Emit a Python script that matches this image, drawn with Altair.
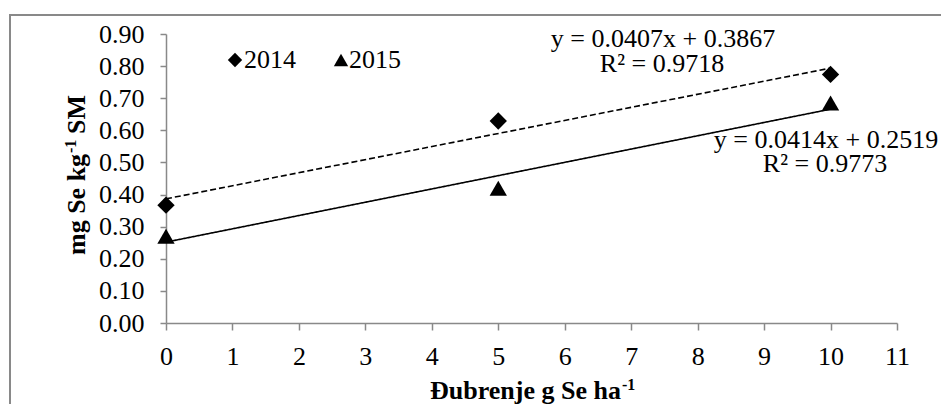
import altair as alt
import pandas as pd

# ---------------- data ----------------
years = ["2014", "2015"]
doses = [0, 5, 10]
se_2014 = [0.367, 0.629, 0.774]
se_2015 = [0.270, 0.420, 0.685]
slopes = [0.0407, 0.0414]
intercepts = [0.3867, 0.2519]
equations = ["y = 0.0407x + 0.3867", "y = 0.0414x + 0.2519"]
r_squared = ["R² = 0.9718", "R² = 0.9773"]
x_ticks = list(range(0, 12))
y_ticks = [0.0, 0.1, 0.2, 0.3, 0.4, 0.5, 0.6, 0.7, 0.8, 0.9]
x_title = ["Đubrenje g Se ha", "-1"]
y_title = ["mg Se kg", "-1", "SM"]

points = pd.DataFrame({
    "year": [years[0]] * len(doses) + [years[1]] * len(doses),
    "dose": doses * 2,
    "se": se_2014 + se_2015,
})
trend_x = [0, 10]
trend = pd.DataFrame([
    {"series": yr, "dose": x, "se": b + m * x}
    for yr, m, b in zip(years, slopes, intercepts)
    for x in trend_x
])

# ---------------- style ----------------
FONT = "Liberation Serif"
FS = 26
SUP = 16
GREY = "#898989"
W, H = 731, 289
LEGEND_SYMBOL_X = [69, 175]
LEGEND_LABEL_X = [78, 183]
LEGEND_Y = 26

xscale = alt.Scale(domain=[0, 11], nice=False, zero=False)
yscale = alt.Scale(domain=[0, 0.9], nice=False)
shape_scale = alt.Scale(domain=years, range=["diamond", "triangle-up"])

x_axis = alt.Axis(values=x_ticks, title=None, grid=False, labelFont=FONT,
                  labelFontSize=FS, labelColor="black", domainColor=GREY,
                  tickColor=GREY, domainWidth=1.5, tickWidth=1.5, tickSize=7,
                  labelPadding=13, labelFlush=False)
y_axis = alt.Axis(values=y_ticks, format=".2f", title=None, grid=False,
                  labelFont=FONT, labelFontSize=FS, labelColor="black",
                  domainColor=GREY, tickColor=GREY, domainWidth=1.5,
                  tickWidth=1.5, tickSize=6, labelPadding=16, labelFlush=False,
                  labelAlign="right")


def text_layer(text, px, py, **kw):
    df = pd.DataFrame({"t": [text], "px": [px], "py": [py]})
    return alt.Chart(df).mark_text(font=FONT, color="black", **kw).encode(
        x=alt.X("px:Q", scale=None),
        y=alt.Y("py:Q", scale=None),
        text="t:N",
    )


border = alt.Chart(pd.DataFrame({"a": [0]})).mark_rect(
    fillOpacity=0, stroke=GREY, strokeWidth=2
).encode(
    x=alt.value(-156), x2=alt.value(820), y=alt.value(-19), y2=alt.value(420)
)

lines = alt.Chart(trend).mark_line(color="black", strokeWidth=1.6).encode(
    x=alt.X("dose:Q", scale=xscale, axis=x_axis),
    y=alt.Y("se:Q", scale=yscale, axis=y_axis),
    strokeDash=alt.StrokeDash("series:N", scale=alt.Scale(domain=years, range=[[6, 3], [1, 0]]), legend=None),
)

pts = alt.Chart(points).mark_point(filled=True, size=300, color="black", opacity=1).encode(
    x=alt.X("dose:Q", scale=xscale, axis=x_axis),
    y=alt.Y("se:Q", scale=yscale, axis=y_axis),
    shape=alt.Shape("year:N", scale=shape_scale, legend=None),
)

# legend drawn as marks
legend_df = pd.DataFrame({
    "year": years,
    "sx": LEGEND_SYMBOL_X,
    "lx": LEGEND_LABEL_X,
    "ly": [LEGEND_Y] * len(years),
})
legend_symbols = alt.Chart(legend_df).mark_point(filled=True, size=205, color="black", opacity=1).encode(
    x=alt.X("sx:Q", scale=None),
    y=alt.Y("ly:Q", scale=None),
    shape=alt.Shape("year:N", scale=shape_scale, legend=None),
)
legend_labels = alt.Chart(legend_df).mark_text(
    font=FONT, fontSize=FS, color="black", align="left", baseline="middle"
).encode(
    x=alt.X("lx:Q", scale=None),
    y=alt.Y("ly:Q", scale=None),
    text="year:N",
)

eq_layers = [
    text_layer(equations[0], 497, 5, fontSize=FS, align="center", baseline="middle"),
    text_layer(r_squared[0], 496, 30, fontSize=FS, align="center", baseline="middle"),
    text_layer(equations[1], 660, 106, fontSize=FS, align="center", baseline="middle"),
    text_layer(r_squared[1], 659, 130, fontSize=FS, align="center", baseline="middle"),
]

title_layers = [
    text_layer(x_title[0], 455, 365, fontSize=FS, fontWeight="bold", align="right", baseline="alphabetic"),
    text_layer(x_title[1], 456, 356, fontSize=SUP, fontWeight="bold", align="left", baseline="alphabetic"),
    text_layer(y_title[0], -81, 221, fontSize=FS, fontWeight="bold", align="left", baseline="alphabetic", angle=270),
    text_layer(y_title[1], -90, 119, fontSize=SUP, fontWeight="bold", align="left", baseline="alphabetic", angle=270),
    text_layer(y_title[2], -81, 100, fontSize=FS, fontWeight="bold", align="left", baseline="alphabetic", angle=270),
]

chart = alt.layer(border, lines, pts, legend_symbols, legend_labels,
                  *eq_layers, *title_layers).properties(
    width=W, height=H,
    autosize=alt.AutoSizeParams(type="none"),
    padding={"left": 158, "top": 26, "right": 44, "bottom": 81},
    background="white",
).configure_view(stroke=None)

chart.save("out.html", embed_options={"renderer": "svg", "actions": False})
